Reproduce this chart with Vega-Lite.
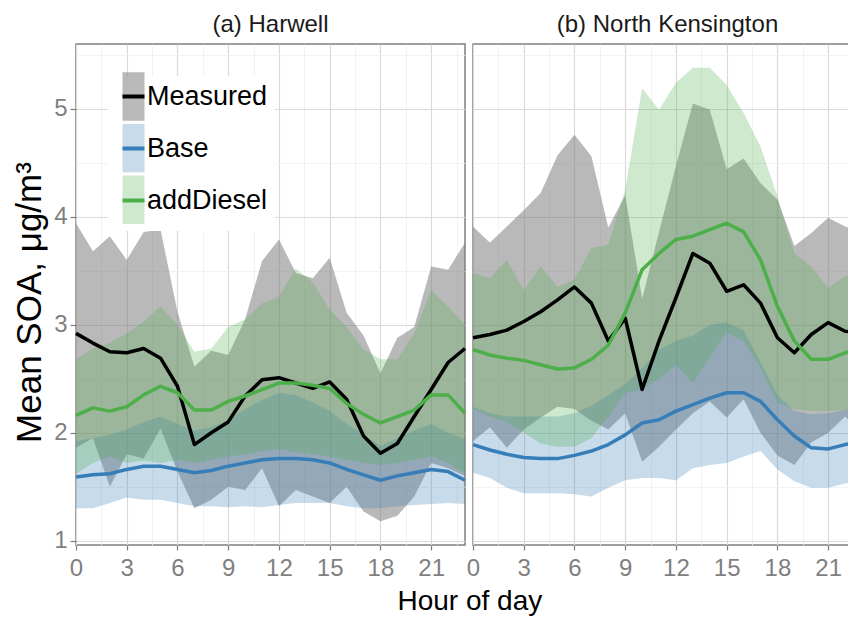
{
  "$schema": "https://vega.github.io/schema/vega-lite/v6.json",
  "padding": {"left": 11, "top": 7, "right": 0, "bottom": 0},
  "config": {
    "font": "Liberation Sans",
    "view": {"stroke": "#7f7f7f", "strokeWidth": 1.5}
  },
  "title": {"text": "Hour of day", "orient": "bottom", "anchor": "middle", "frame": "bounds", "font": "Liberation Sans", "fontSize": 28, "fontWeight": "normal", "color": "#000000", "offset": 7, "dx": 32},
  "datasets": {
    "soa": [
      {"site":"Harwell","hour":0,"series":"Measured","mean":2.92,"lo":1.86,"hi":3.94},
      {"site":"Harwell","hour":1,"series":"Measured","mean":2.83,"lo":1.95,"hi":3.68},
      {"site":"Harwell","hour":2,"series":"Measured","mean":2.75,"lo":1.50,"hi":3.82},
      {"site":"Harwell","hour":3,"series":"Measured","mean":2.74,"lo":1.80,"hi":3.60},
      {"site":"Harwell","hour":4,"series":"Measured","mean":2.78,"lo":1.76,"hi":3.86},
      {"site":"Harwell","hour":5,"series":"Measured","mean":2.69,"lo":2.04,"hi":3.88},
      {"site":"Harwell","hour":6,"series":"Measured","mean":2.43,"lo":1.64,"hi":3.12},
      {"site":"Harwell","hour":7,"series":"Measured","mean":1.89,"lo":1.30,"hi":2.61},
      {"site":"Harwell","hour":8,"series":"Measured","mean":2.00,"lo":1.38,"hi":2.76},
      {"site":"Harwell","hour":9,"series":"Measured","mean":2.10,"lo":1.50,"hi":2.72},
      {"site":"Harwell","hour":10,"series":"Measured","mean":2.34,"lo":1.47,"hi":3.05},
      {"site":"Harwell","hour":11,"series":"Measured","mean":2.49,"lo":1.67,"hi":3.59},
      {"site":"Harwell","hour":12,"series":"Measured","mean":2.51,"lo":1.32,"hi":3.79},
      {"site":"Harwell","hour":13,"series":"Measured","mean":2.46,"lo":1.47,"hi":3.48},
      {"site":"Harwell","hour":14,"series":"Measured","mean":2.41,"lo":1.41,"hi":3.43},
      {"site":"Harwell","hour":15,"series":"Measured","mean":2.47,"lo":1.35,"hi":3.62},
      {"site":"Harwell","hour":16,"series":"Measured","mean":2.31,"lo":1.50,"hi":3.11},
      {"site":"Harwell","hour":17,"series":"Measured","mean":1.97,"lo":1.27,"hi":2.90},
      {"site":"Harwell","hour":18,"series":"Measured","mean":1.81,"lo":1.18,"hi":2.55},
      {"site":"Harwell","hour":19,"series":"Measured","mean":1.90,"lo":1.23,"hi":2.88},
      {"site":"Harwell","hour":20,"series":"Measured","mean":2.15,"lo":1.41,"hi":2.98},
      {"site":"Harwell","hour":21,"series":"Measured","mean":2.40,"lo":1.72,"hi":3.54},
      {"site":"Harwell","hour":22,"series":"Measured","mean":2.65,"lo":1.67,"hi":3.51},
      {"site":"Harwell","hour":23,"series":"Measured","mean":2.78,"lo":1.60,"hi":3.76},
      {"site":"Harwell","hour":0,"series":"Base","mean":1.59,"lo":1.30,"hi":1.92},
      {"site":"Harwell","hour":1,"series":"Base","mean":1.61,"lo":1.30,"hi":1.95},
      {"site":"Harwell","hour":2,"series":"Base","mean":1.62,"lo":1.35,"hi":1.98},
      {"site":"Harwell","hour":3,"series":"Base","mean":1.66,"lo":1.40,"hi":2.03},
      {"site":"Harwell","hour":4,"series":"Base","mean":1.69,"lo":1.38,"hi":2.10},
      {"site":"Harwell","hour":5,"series":"Base","mean":1.69,"lo":1.38,"hi":2.15},
      {"site":"Harwell","hour":6,"series":"Base","mean":1.66,"lo":1.35,"hi":2.08},
      {"site":"Harwell","hour":7,"series":"Base","mean":1.63,"lo":1.32,"hi":2.02},
      {"site":"Harwell","hour":8,"series":"Base","mean":1.65,"lo":1.32,"hi":2.05},
      {"site":"Harwell","hour":9,"series":"Base","mean":1.69,"lo":1.31,"hi":2.12},
      {"site":"Harwell","hour":10,"series":"Base","mean":1.72,"lo":1.32,"hi":2.22},
      {"site":"Harwell","hour":11,"series":"Base","mean":1.75,"lo":1.31,"hi":2.30},
      {"site":"Harwell","hour":12,"series":"Base","mean":1.76,"lo":1.33,"hi":2.37},
      {"site":"Harwell","hour":13,"series":"Base","mean":1.76,"lo":1.35,"hi":2.35},
      {"site":"Harwell","hour":14,"series":"Base","mean":1.75,"lo":1.35,"hi":2.28},
      {"site":"Harwell","hour":15,"series":"Base","mean":1.72,"lo":1.35,"hi":2.20},
      {"site":"Harwell","hour":16,"series":"Base","mean":1.66,"lo":1.32,"hi":2.08},
      {"site":"Harwell","hour":17,"series":"Base","mean":1.61,"lo":1.30,"hi":1.98},
      {"site":"Harwell","hour":18,"series":"Base","mean":1.56,"lo":1.30,"hi":1.88},
      {"site":"Harwell","hour":19,"series":"Base","mean":1.60,"lo":1.32,"hi":1.95},
      {"site":"Harwell","hour":20,"series":"Base","mean":1.63,"lo":1.33,"hi":2.02},
      {"site":"Harwell","hour":21,"series":"Base","mean":1.66,"lo":1.34,"hi":2.08},
      {"site":"Harwell","hour":22,"series":"Base","mean":1.64,"lo":1.35,"hi":2.00},
      {"site":"Harwell","hour":23,"series":"Base","mean":1.56,"lo":1.34,"hi":1.94},
      {"site":"Harwell","hour":0,"series":"addDiesel","mean":2.16,"lo":1.62,"hi":2.68},
      {"site":"Harwell","hour":1,"series":"addDiesel","mean":2.23,"lo":1.72,"hi":2.78},
      {"site":"Harwell","hour":2,"series":"addDiesel","mean":2.20,"lo":1.78,"hi":2.83},
      {"site":"Harwell","hour":3,"series":"addDiesel","mean":2.24,"lo":1.72,"hi":2.92},
      {"site":"Harwell","hour":4,"series":"addDiesel","mean":2.35,"lo":1.74,"hi":3.03},
      {"site":"Harwell","hour":5,"series":"addDiesel","mean":2.43,"lo":1.72,"hi":3.17},
      {"site":"Harwell","hour":6,"series":"addDiesel","mean":2.37,"lo":1.75,"hi":3.00},
      {"site":"Harwell","hour":7,"series":"addDiesel","mean":2.21,"lo":1.72,"hi":2.75},
      {"site":"Harwell","hour":8,"series":"addDiesel","mean":2.21,"lo":1.75,"hi":2.78},
      {"site":"Harwell","hour":9,"series":"addDiesel","mean":2.29,"lo":1.78,"hi":2.98},
      {"site":"Harwell","hour":10,"series":"addDiesel","mean":2.34,"lo":1.80,"hi":3.05},
      {"site":"Harwell","hour":11,"series":"addDiesel","mean":2.40,"lo":1.83,"hi":3.20},
      {"site":"Harwell","hour":12,"series":"addDiesel","mean":2.46,"lo":1.85,"hi":3.26},
      {"site":"Harwell","hour":13,"series":"addDiesel","mean":2.46,"lo":1.82,"hi":3.52},
      {"site":"Harwell","hour":14,"series":"addDiesel","mean":2.44,"lo":1.80,"hi":3.39},
      {"site":"Harwell","hour":15,"series":"addDiesel","mean":2.41,"lo":1.78,"hi":3.14},
      {"site":"Harwell","hour":16,"series":"addDiesel","mean":2.27,"lo":1.75,"hi":2.98},
      {"site":"Harwell","hour":17,"series":"addDiesel","mean":2.17,"lo":1.72,"hi":2.77},
      {"site":"Harwell","hour":18,"series":"addDiesel","mean":2.09,"lo":1.70,"hi":2.68},
      {"site":"Harwell","hour":19,"series":"addDiesel","mean":2.15,"lo":1.72,"hi":2.68},
      {"site":"Harwell","hour":20,"series":"addDiesel","mean":2.21,"lo":1.75,"hi":2.92},
      {"site":"Harwell","hour":21,"series":"addDiesel","mean":2.35,"lo":1.78,"hi":3.32},
      {"site":"Harwell","hour":22,"series":"addDiesel","mean":2.35,"lo":1.72,"hi":3.17},
      {"site":"Harwell","hour":23,"series":"addDiesel","mean":2.18,"lo":1.62,"hi":3.00},
      {"site":"North Kensington","hour":0,"series":"Measured","mean":2.88,"lo":1.92,"hi":3.91},
      {"site":"North Kensington","hour":1,"series":"Measured","mean":2.91,"lo":2.05,"hi":3.76},
      {"site":"North Kensington","hour":2,"series":"Measured","mean":2.95,"lo":1.86,"hi":3.91},
      {"site":"North Kensington","hour":3,"series":"Measured","mean":3.03,"lo":2.03,"hi":4.06},
      {"site":"North Kensington","hour":4,"series":"Measured","mean":3.12,"lo":2.14,"hi":4.22},
      {"site":"North Kensington","hour":5,"series":"Measured","mean":3.23,"lo":2.24,"hi":4.57},
      {"site":"North Kensington","hour":6,"series":"Measured","mean":3.35,"lo":2.22,"hi":4.76},
      {"site":"North Kensington","hour":7,"series":"Measured","mean":3.20,"lo":2.11,"hi":4.56},
      {"site":"North Kensington","hour":8,"series":"Measured","mean":2.85,"lo":2.03,"hi":3.90},
      {"site":"North Kensington","hour":9,"series":"Measured","mean":3.06,"lo":2.18,"hi":4.20},
      {"site":"North Kensington","hour":10,"series":"Measured","mean":2.40,"lo":1.73,"hi":3.24},
      {"site":"North Kensington","hour":11,"series":"Measured","mean":2.85,"lo":1.87,"hi":3.86},
      {"site":"North Kensington","hour":12,"series":"Measured","mean":3.25,"lo":2.03,"hi":4.47},
      {"site":"North Kensington","hour":13,"series":"Measured","mean":3.66,"lo":2.18,"hi":5.05},
      {"site":"North Kensington","hour":14,"series":"Measured","mean":3.57,"lo":2.29,"hi":4.99},
      {"site":"North Kensington","hour":15,"series":"Measured","mean":3.31,"lo":2.14,"hi":4.44},
      {"site":"North Kensington","hour":16,"series":"Measured","mean":3.37,"lo":2.31,"hi":4.54},
      {"site":"North Kensington","hour":17,"series":"Measured","mean":3.20,"lo":2.00,"hi":4.31},
      {"site":"North Kensington","hour":18,"series":"Measured","mean":2.88,"lo":1.79,"hi":4.16},
      {"site":"North Kensington","hour":19,"series":"Measured","mean":2.74,"lo":1.70,"hi":3.73},
      {"site":"North Kensington","hour":20,"series":"Measured","mean":2.91,"lo":1.91,"hi":3.85},
      {"site":"North Kensington","hour":21,"series":"Measured","mean":3.02,"lo":2.00,"hi":3.99},
      {"site":"North Kensington","hour":22,"series":"Measured","mean":2.94,"lo":2.15,"hi":3.91},
      {"site":"North Kensington","hour":23,"series":"Measured","mean":2.92,"lo":2.00,"hi":3.85},
      {"site":"North Kensington","hour":0,"series":"Base","mean":1.89,"lo":1.63,"hi":2.24},
      {"site":"North Kensington","hour":1,"series":"Base","mean":1.84,"lo":1.58,"hi":2.18},
      {"site":"North Kensington","hour":2,"series":"Base","mean":1.80,"lo":1.49,"hi":2.15},
      {"site":"North Kensington","hour":3,"series":"Base","mean":1.77,"lo":1.44,"hi":2.15},
      {"site":"North Kensington","hour":4,"series":"Base","mean":1.76,"lo":1.44,"hi":2.15},
      {"site":"North Kensington","hour":5,"series":"Base","mean":1.76,"lo":1.44,"hi":2.15},
      {"site":"North Kensington","hour":6,"series":"Base","mean":1.79,"lo":1.43,"hi":2.18},
      {"site":"North Kensington","hour":7,"series":"Base","mean":1.83,"lo":1.41,"hi":2.25},
      {"site":"North Kensington","hour":8,"series":"Base","mean":1.89,"lo":1.49,"hi":2.35},
      {"site":"North Kensington","hour":9,"series":"Base","mean":1.98,"lo":1.56,"hi":2.45},
      {"site":"North Kensington","hour":10,"series":"Base","mean":2.09,"lo":1.58,"hi":2.60},
      {"site":"North Kensington","hour":11,"series":"Base","mean":2.12,"lo":1.58,"hi":2.77},
      {"site":"North Kensington","hour":12,"series":"Base","mean":2.20,"lo":1.56,"hi":2.85},
      {"site":"North Kensington","hour":13,"series":"Base","mean":2.26,"lo":1.67,"hi":2.90},
      {"site":"North Kensington","hour":14,"series":"Base","mean":2.32,"lo":1.70,"hi":3.00},
      {"site":"North Kensington","hour":15,"series":"Base","mean":2.37,"lo":1.72,"hi":3.02},
      {"site":"North Kensington","hour":16,"series":"Base","mean":2.37,"lo":1.78,"hi":2.95},
      {"site":"North Kensington","hour":17,"series":"Base","mean":2.29,"lo":1.83,"hi":2.65},
      {"site":"North Kensington","hour":18,"series":"Base","mean":2.12,"lo":1.66,"hi":2.35},
      {"site":"North Kensington","hour":19,"series":"Base","mean":1.97,"lo":1.55,"hi":2.20},
      {"site":"North Kensington","hour":20,"series":"Base","mean":1.86,"lo":1.49,"hi":2.17},
      {"site":"North Kensington","hour":21,"series":"Base","mean":1.85,"lo":1.49,"hi":2.18},
      {"site":"North Kensington","hour":22,"series":"Base","mean":1.89,"lo":1.53,"hi":2.21},
      {"site":"North Kensington","hour":23,"series":"Base","mean":1.92,"lo":1.56,"hi":2.25},
      {"site":"North Kensington","hour":0,"series":"addDiesel","mean":2.77,"lo":2.22,"hi":3.48},
      {"site":"North Kensington","hour":1,"series":"addDiesel","mean":2.72,"lo":2.15,"hi":3.43},
      {"site":"North Kensington","hour":2,"series":"addDiesel","mean":2.69,"lo":2.10,"hi":3.60},
      {"site":"North Kensington","hour":3,"series":"addDiesel","mean":2.67,"lo":2.00,"hi":3.32},
      {"site":"North Kensington","hour":4,"series":"addDiesel","mean":2.63,"lo":1.90,"hi":3.54},
      {"site":"North Kensington","hour":5,"series":"addDiesel","mean":2.59,"lo":1.87,"hi":3.35},
      {"site":"North Kensington","hour":6,"series":"addDiesel","mean":2.60,"lo":1.87,"hi":3.42},
      {"site":"North Kensington","hour":7,"series":"addDiesel","mean":2.68,"lo":1.95,"hi":3.71},
      {"site":"North Kensington","hour":8,"series":"addDiesel","mean":2.81,"lo":2.15,"hi":3.74},
      {"site":"North Kensington","hour":9,"series":"addDiesel","mean":3.11,"lo":2.37,"hi":4.25},
      {"site":"North Kensington","hour":10,"series":"addDiesel","mean":3.51,"lo":2.40,"hi":5.19},
      {"site":"North Kensington","hour":11,"series":"addDiesel","mean":3.66,"lo":2.50,"hi":4.99},
      {"site":"North Kensington","hour":12,"series":"addDiesel","mean":3.79,"lo":2.63,"hi":5.24},
      {"site":"North Kensington","hour":13,"series":"addDiesel","mean":3.82,"lo":2.46,"hi":5.38},
      {"site":"North Kensington","hour":14,"series":"addDiesel","mean":3.88,"lo":2.70,"hi":5.38},
      {"site":"North Kensington","hour":15,"series":"addDiesel","mean":3.94,"lo":2.93,"hi":5.22},
      {"site":"North Kensington","hour":16,"series":"addDiesel","mean":3.86,"lo":2.85,"hi":4.96},
      {"site":"North Kensington","hour":17,"series":"addDiesel","mean":3.60,"lo":2.60,"hi":4.65},
      {"site":"North Kensington","hour":18,"series":"addDiesel","mean":3.17,"lo":2.28,"hi":4.19},
      {"site":"North Kensington","hour":19,"series":"addDiesel","mean":2.85,"lo":2.22,"hi":3.66},
      {"site":"North Kensington","hour":20,"series":"addDiesel","mean":2.68,"lo":2.20,"hi":3.54},
      {"site":"North Kensington","hour":21,"series":"addDiesel","mean":2.68,"lo":2.20,"hi":3.34},
      {"site":"North Kensington","hour":22,"series":"addDiesel","mean":2.74,"lo":2.21,"hi":3.45},
      {"site":"North Kensington","hour":23,"series":"addDiesel","mean":2.78,"lo":2.25,"hi":3.51}
    ]
  },
  "spacing": -3,
  "resolve": {"scale": {"fill": "independent", "stroke": "independent"}, "legend": {"fill": "independent", "stroke": "independent"}},
  "hconcat": [
    {
      "spacing": 0,
      "resolve": {"scale": {"fill": "independent", "stroke": "independent"}, "legend": {"fill": "independent", "stroke": "independent"}},
      "vconcat": [
        {
          "width": 389, "height": 36,
          "data": {"values": [{"label": "(a) Harwell"}]},
          "mark": {"type": "text", "font": "Liberation Sans", "fontSize": 24, "color": "#1a1a1a", "baseline": "middle", "align": "center"},
          "encoding": {"text": {"field": "label", "type": "nominal"}}
        },
        {
          "width": 389, "height": 501,
          "data": {"name": "soa"},
          "transform": [{"filter": "datum.site === 'Harwell'"}],
          "resolve": {"axis": {"x": "independent", "y": "independent"}},
          "layer": [
            {
              "transform": [{"filter": "datum.series === 'Measured'"}],
              "mark": {"type": "area", "opacity": 1},
              "encoding": {
                "x": {"field": "hour", "type": "quantitative", "scale": {"domain": [0, 23], "nice": false, "zero": false},
                  "axis": {"orient": "top", "values": [1.5, 4.5, 7.5, 10.5, 13.5, 16.5, 19.5, 22.5], "grid": true, "gridColor": "#efefef", "gridWidth": 0.8, "ticks": false, "labels": false, "domain": false, "title": null}},
                "y": {"field": "lo", "type": "quantitative", "scale": {"domain": [0.96, 5.6], "nice": false, "zero": false},
                  "axis": {"orient": "right", "values": [1.5, 2.5, 3.5, 4.5, 5.5], "grid": true, "gridColor": "#efefef", "gridWidth": 0.8, "ticks": false, "labels": false, "domain": false, "title": null}},
                "y2": {"field": "hi"},
                "fill": {"field": "series", "type": "nominal",
                  "scale": {"domain": ["Measured", "Base", "addDiesel"], "range": ["rgba(128,128,128,0.55)", "rgba(55,126,184,0.28)", "rgba(77,175,74,0.27)"]},
                  "legend": {"title": null, "orient": "top-left", "offset": 32, "padding": 7, "fillColor": "white", "symbolType": "M-1,-2.2H1V2.2H-1Z", "symbolSize": 484, "symbolOffset": 5, "symbolStrokeWidth": 0, "symbolOpacity": 1, "labelFont": "Liberation Sans", "labelFontSize": 27, "labelOpacity": 0, "labelOffset": 0, "rowPadding": 2.6}}
              }
            },
            {
              "transform": [{"filter": "datum.series === 'Base'"}],
              "mark": {"type": "area", "opacity": 1},
              "encoding": {
                "x": {"field": "hour", "type": "quantitative",
                  "axis": {"orient": "bottom", "values": [0, 3, 6, 9, 12, 15, 18, 21], "grid": true, "gridColor": "#dadada", "gridWidth": 1.2, "ticks": true, "tickColor": "#7f7f7f", "tickSize": 5, "tickWidth": 1.2, "domain": false, "labelFont": "Liberation Sans", "labelFontSize": 24, "labelColor": "#7f7f7f", "labelPadding": 6, "labelFlush": false, "labelOverlap": false, "title": null}},
                "y": {"field": "lo", "type": "quantitative",
                  "axis": {"orient": "left", "values": [1, 2, 3, 4, 5], "grid": true, "gridColor": "#dadada", "gridWidth": 1.2, "ticks": true, "tickColor": "#7f7f7f", "tickSize": 6, "tickWidth": 1.2, "domain": false, "labelFont": "Liberation Sans", "labelFontSize": 24, "labelColor": "#7f7f7f", "labelPadding": 3, "labelOverlap": false, "title": "Mean SOA,  μg/m³", "titleFont": "Liberation Sans", "titleFontSize": 35, "titleFontWeight": "normal", "titleColor": "#000000", "titleX": -29, "titleY": 258, "titleAlign": "center", "titleBaseline": "bottom", "titleAngle": -90}},
                "y2": {"field": "hi"},
                "fill": {"field": "series", "type": "nominal"}
              }
            },
            {
              "transform": [{"filter": "datum.series === 'addDiesel'"}],
              "mark": {"type": "area", "opacity": 1},
              "encoding": {
                "x": {"field": "hour", "type": "quantitative", "axis": null},
                "y": {"field": "lo", "type": "quantitative", "axis": null},
                "y2": {"field": "hi"},
                "fill": {"field": "series", "type": "nominal"}
              }
            },
            {
              "transform": [{"filter": "datum.series === 'Measured'"}],
              "mark": {"type": "line", "strokeWidth": 3.5, "strokeJoin": "round"},
              "encoding": {
                "x": {"field": "hour", "type": "quantitative", "axis": null},
                "y": {"field": "mean", "type": "quantitative", "axis": null},
                "stroke": {"field": "series", "type": "nominal",
                  "scale": {"domain": ["Measured", "Base", "addDiesel"], "range": ["#000000", "#377EB8", "#4DAF4A"]},
                  "legend": {"title": null, "orient": "none", "legendX": 32, "legendY": 32, "padding": 7, "symbolType": "M-1,0H1", "symbolSize": 484, "symbolOffset": 5, "symbolStrokeWidth": 4, "symbolFillColor": "transparent", "labelFont": "Liberation Sans", "labelFontSize": 27, "labelColor": "#000000", "labelOffset": 0, "rowPadding": 24}}
              }
            },
            {
              "transform": [{"filter": "datum.series === 'Base'"}],
              "mark": {"type": "line", "strokeWidth": 3.5, "strokeJoin": "round"},
              "encoding": {
                "x": {"field": "hour", "type": "quantitative", "axis": null},
                "y": {"field": "mean", "type": "quantitative", "axis": null},
                "stroke": {"field": "series", "type": "nominal"}
              }
            },
            {
              "transform": [{"filter": "datum.series === 'addDiesel'"}],
              "mark": {"type": "line", "strokeWidth": 3.5, "strokeJoin": "round"},
              "encoding": {
                "x": {"field": "hour", "type": "quantitative", "axis": null},
                "y": {"field": "mean", "type": "quantitative", "axis": null},
                "stroke": {"field": "series", "type": "nominal"}
              }
            }
          ]
        }
      ]
    },
    {
      "spacing": 0,
      "resolve": {"scale": {"fill": "independent", "stroke": "independent"}, "legend": {"fill": "independent", "stroke": "independent"}},
      "vconcat": [
        {
          "width": 389, "height": 36,
          "data": {"values": [{"label": "(b) North Kensington"}]},
          "mark": {"type": "text", "font": "Liberation Sans", "fontSize": 24, "color": "#1a1a1a", "baseline": "middle", "align": "center"},
          "encoding": {"text": {"field": "label", "type": "nominal"}}
        },
        {
          "width": 389, "height": 501,
          "data": {"name": "soa"},
          "transform": [{"filter": "datum.site === 'North Kensington'"}],
          "resolve": {"axis": {"x": "independent", "y": "independent"}},
          "layer": [
            {
              "transform": [{"filter": "datum.series === 'Measured'"}],
              "mark": {"type": "area", "opacity": 1},
              "encoding": {
                "x": {"field": "hour", "type": "quantitative", "scale": {"domain": [0, 23], "nice": false, "zero": false},
                  "axis": {"orient": "top", "values": [1.5, 4.5, 7.5, 10.5, 13.5, 16.5, 19.5, 22.5], "grid": true, "gridColor": "#efefef", "gridWidth": 0.8, "ticks": false, "labels": false, "domain": false, "title": null}},
                "y": {"field": "lo", "type": "quantitative", "scale": {"domain": [0.96, 5.6], "nice": false, "zero": false},
                  "axis": {"orient": "right", "values": [1.5, 2.5, 3.5, 4.5, 5.5], "grid": true, "gridColor": "#efefef", "gridWidth": 0.8, "ticks": false, "labels": false, "domain": false, "title": null}},
                "y2": {"field": "hi"},
                "fill": {"field": "series", "type": "nominal",
                  "scale": {"domain": ["Measured", "Base", "addDiesel"], "range": ["rgba(128,128,128,0.55)", "rgba(55,126,184,0.28)", "rgba(77,175,74,0.27)"]},
                  "legend": null}
              }
            },
            {
              "transform": [{"filter": "datum.series === 'Base'"}],
              "mark": {"type": "area", "opacity": 1},
              "encoding": {
                "x": {"field": "hour", "type": "quantitative",
                  "axis": {"orient": "bottom", "values": [0, 3, 6, 9, 12, 15, 18, 21], "grid": true, "gridColor": "#dadada", "gridWidth": 1.2, "ticks": true, "tickColor": "#7f7f7f", "tickSize": 5, "tickWidth": 1.2, "domain": false, "labelFont": "Liberation Sans", "labelFontSize": 24, "labelColor": "#7f7f7f", "labelPadding": 6, "labelFlush": false, "labelOverlap": false, "title": null}},
                "y": {"field": "lo", "type": "quantitative",
                  "axis": {"orient": "left", "values": [1, 2, 3, 4, 5], "grid": true, "gridColor": "#dadada", "gridWidth": 1.2, "ticks": false, "labels": false, "domain": false, "title": null}},
                "y2": {"field": "hi"},
                "fill": {"field": "series", "type": "nominal", "legend": null}
              }
            },
            {
              "transform": [{"filter": "datum.series === 'addDiesel'"}],
              "mark": {"type": "area", "opacity": 1},
              "encoding": {
                "x": {"field": "hour", "type": "quantitative", "axis": null},
                "y": {"field": "lo", "type": "quantitative", "axis": null},
                "y2": {"field": "hi"},
                "fill": {"field": "series", "type": "nominal", "legend": null}
              }
            },
            {
              "transform": [{"filter": "datum.series === 'Measured'"}],
              "mark": {"type": "line", "strokeWidth": 3.5, "strokeJoin": "round"},
              "encoding": {
                "x": {"field": "hour", "type": "quantitative", "axis": null},
                "y": {"field": "mean", "type": "quantitative", "axis": null},
                "stroke": {"field": "series", "type": "nominal",
                  "scale": {"domain": ["Measured", "Base", "addDiesel"], "range": ["#000000", "#377EB8", "#4DAF4A"]},
                  "legend": null}
              }
            },
            {
              "transform": [{"filter": "datum.series === 'Base'"}],
              "mark": {"type": "line", "strokeWidth": 3.5, "strokeJoin": "round"},
              "encoding": {
                "x": {"field": "hour", "type": "quantitative", "axis": null},
                "y": {"field": "mean", "type": "quantitative", "axis": null},
                "stroke": {"field": "series", "type": "nominal", "legend": null}
              }
            },
            {
              "transform": [{"filter": "datum.series === 'addDiesel'"}],
              "mark": {"type": "line", "strokeWidth": 3.5, "strokeJoin": "round"},
              "encoding": {
                "x": {"field": "hour", "type": "quantitative", "axis": null},
                "y": {"field": "mean", "type": "quantitative", "axis": null},
                "stroke": {"field": "series", "type": "nominal", "legend": null}
              }
            }
          ]
        }
      ]
    }
  ]
}
